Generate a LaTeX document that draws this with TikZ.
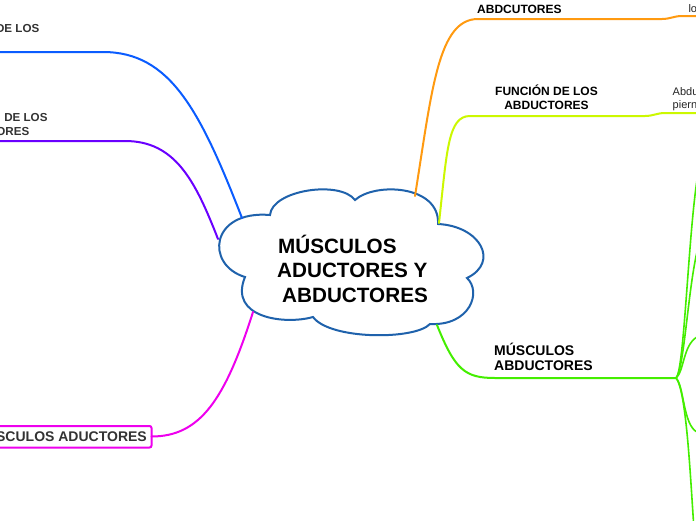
\documentclass[tikz,border=0pt]{standalone}
\usepackage{fontspec}
\setmainfont{Liberation Sans}
\definecolor{cblue}{HTML}{0A5CFF}
\definecolor{cpurple}{HTML}{6A00FF}
\definecolor{cmagenta}{HTML}{EE00EE}
\definecolor{corange}{HTML}{FF9A10}
\definecolor{cyellow}{HTML}{CCF800}
\definecolor{cgreen}{HTML}{44EE00}
\definecolor{ccloud}{HTML}{1F62AC}
\definecolor{cgray}{HTML}{333333}
\begin{document}
\begin{tikzpicture}[x=1pt,y=-1pt,
  branch/.style={line width=2pt, line cap=round},
  subbranch/.style={line width=1.6pt, draw=cgreen, line cap=round},
  lbl/.style={font=\bfseries\fontsize{12}{14}\selectfont, text=black, inner sep=0pt},
  lbll/.style={font=\bfseries\fontsize{11.6}{14}\selectfont, text=cgray, inner sep=0pt},
  lblbig/.style={font=\bfseries\fontsize{14}{16}\selectfont, text=black, inner sep=0pt},
  plain/.style={font=\fontsize{11}{13}\selectfont, text=black!85, inner sep=0pt},
  ttl/.style={font=\bfseries\fontsize{20.7}{24}\selectfont, text=black, inner sep=0pt}
]
\useasboundingbox[fill=white] (0,0) rectangle (696,520);

% cloud
\draw[draw=ccloud, line width=2pt, fill=white]
  (270,215) .. controls (272,190) and (340,180) .. (355,200)
  .. controls (375,182) and (440,185) .. (438,224)
  .. controls (480,226) and (500,262) .. (467,278)
  .. controls (482,292) and (470,326) .. (430,324)
  .. controls (415,340) and (330,340) .. (313,317)
  .. controls (285,325) and (228,318) .. (245,277)
  .. controls (205,265) and (210,210) .. (270,215) -- cycle;

\node[ttl, anchor=base west] (t1) at (278,253) {MÚSCULOS};
\node[ttl, anchor=base west] (t2) at (277,277.5) {ADUCTORES Y};
\node[ttl, anchor=base west] (t3) at (282,302) {ABDUCTORES};

% anchor coordinates on the cloud
\coordinate (cBlue) at (242,218);
\coordinate (cPurple) at (218,239);
\coordinate (cMag) at (253,312);
\coordinate (cOrange) at (415,196);
\coordinate (cYellow) at (439,223);
\coordinate (cGreen) at (437,325);

% corner coordinates
\coordinate (bBlue) at (103,52);
\coordinate (eBlue) at (-2,52);
\coordinate (bPurple) at (125,141);
\coordinate (ePurple) at (-2,141);
\coordinate (bOrange) at (478,19);
\coordinate (mOrange) at (662,19);
\coordinate (nOrange) at (682,16);
\coordinate (eOrange) at (698,16);
\coordinate (bYellow) at (470,116);
\coordinate (mYellow) at (645,116);
\coordinate (nYellow) at (665,113);
\coordinate (eYellow) at (698,113);
\coordinate (bGreen) at (495,378);
\coordinate (hub) at (676,378);
\coordinate (g1) at (697,180);
\coordinate (g2) at (697,252);
\coordinate (g3) at (697,337);
\coordinate (g4) at (697,432);
\coordinate (g5) at (693.5,522);

% box on the left
\draw[draw=cmagenta, line width=2pt, rounded corners=2pt, fill=white] (-10,426) rectangle (151.5,447.5);
\node[font=\bfseries\fontsize{14}{16}\selectfont, text=cgray, inner sep=0pt, anchor=base east] (box) at (147,441) {SCULOS ADUCTORES};
\coordinate (boxR) at (151.5,436.5);

% branches
\draw[branch, draw=cblue] (cBlue) .. controls (200,110) and (170,52) .. (bBlue) -- (eBlue);
\draw[branch, draw=cpurple] (cPurple) .. controls (195,180) and (175,141) .. (bPurple) -- (ePurple);
\draw[branch, draw=cmagenta] (cMag) .. controls (225,400) and (200,436.5) .. (boxR);
\draw[branch, draw=corange] (cOrange) .. controls (432,90) and (438,19) .. (bOrange) -- (mOrange)
  .. controls (670,19) and (674,16) .. (nOrange) -- (eOrange);
\draw[branch, draw=cyellow] (cYellow) .. controls (447,150) and (448,116) .. (bYellow) -- (mYellow)
  .. controls (653,116) and (657,113) .. (nYellow) -- (eYellow);
\draw[branch, draw=cgreen] (cGreen) .. controls (455,370) and (465,378) .. (bGreen) -- (hub);

\draw[subbranch] (hub) .. controls (684,372) and (688,240) .. (g1);
\draw[subbranch] (hub) .. controls (684,370) and (688,290) .. (g2);
\draw[subbranch] (hub) .. controls (684,372) and (683,345) .. (g3);
\draw[subbranch] (hub) .. controls (684,385) and (683,425) .. (g4);
\draw[subbranch] (hub) .. controls (686,390) and (690,470) .. (g5);

% labels
\node[lbl, anchor=base west] (lOrange) at (477,13.3) {ABDCUTORES};
\node[lbl, anchor=base] (lYellow1) at (546.5,95) {FUNCIÓN DE LOS};
\node[lbl, anchor=base] (lYellow2) at (546.5,109.3) {ABDUCTORES};
\node[lblbig, anchor=base west] (lGreen1) at (494,355) {MÚSCULOS};
\node[lblbig, anchor=base west] (lGreen2) at (494,370.7) {ABDUCTORES};
\node[lbll, anchor=base east] (lBlue) at (39.5,32.3) {DE LOS};
\node[lbll, anchor=base east] (lPurple1) at (47.7,121) {DE LOS};
\node[lbll, anchor=base east] (lPurple2) at (29.5,135) {ORES};

\node[plain, anchor=base west] (rOrange) at (688.3,12) {lo};
\node[plain, anchor=base west] (rYellow1) at (672.5,95) {Abdu};
\node[plain, anchor=base west] (rYellow2) at (672.5,108) {piern};
\end{tikzpicture}
\end{document}
